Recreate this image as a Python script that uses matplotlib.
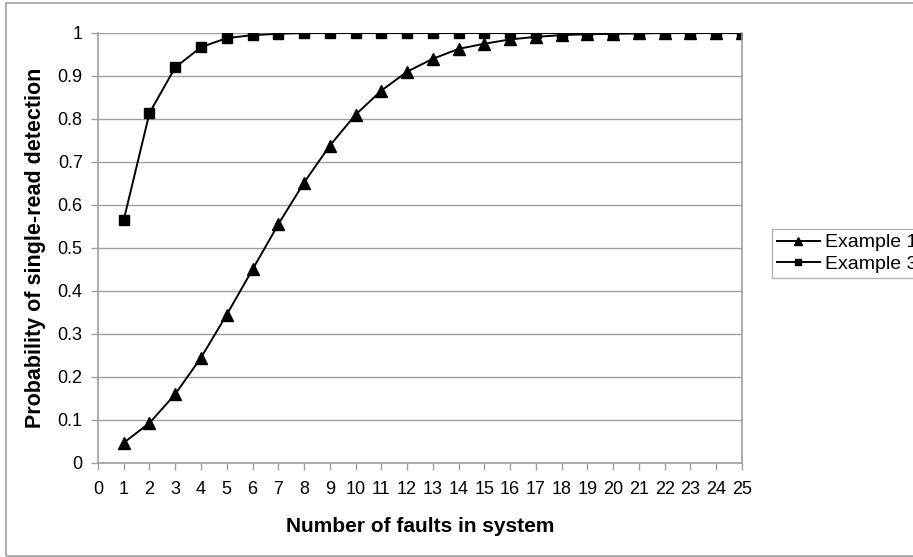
import matplotlib.pyplot as plt
from matplotlib.patches import Rectangle

faults = list(range(1, 26))

example1 = [0.047, 0.093, 0.160, 0.245, 0.345, 0.450, 0.555, 0.652, 0.738, 0.810,
            0.866, 0.910, 0.940, 0.963, 0.975, 0.985, 0.991, 0.995, 0.997, 0.998,
            0.999, 1.0, 1.0, 1.0, 1.0]
example3 = [0.565, 0.814, 0.920, 0.967, 0.988, 0.995, 0.998, 1.0, 1.0, 1.0,
            1.0, 1.0, 1.0, 1.0, 1.0, 1.0, 1.0, 1.0, 1.0, 1.0,
            1.0, 1.0, 1.0, 1.0, 1.0]

x_ticks = list(range(0, 26))
y_ticks = [0, 0.1, 0.2, 0.3, 0.4, 0.5, 0.6, 0.7, 0.8, 0.9, 1]
y_tick_labels = ['0', '0.1', '0.2', '0.3', '0.4', '0.5', '0.6', '0.7', '0.8', '0.9', '1']

plt.rcParams['font.family'] = ['Liberation Sans', 'DejaVu Sans']
grey = '#a0a0a0'

fig = plt.figure(figsize=(9.13, 5.57), dpi=100)
ax = fig.add_axes([0.1073, 0.1688, 0.7054, 0.772])

# outer chart border (runs off the right edge like the original)
fig.patches.append(Rectangle((6 / 913, 1 / 557), 1.0, 553 / 557, transform=fig.transFigure,
                             fill=False, edgecolor=grey, linewidth=1.2))

ax.plot(faults, example1, color='black', linewidth=1.4, marker='^', markersize=8, label='Example 1')
ax.plot(faults, example3, color='black', linewidth=1.4, marker='s', markersize=6.5, label='Example 3')

ax.set_xlim(0, 25)
ax.set_ylim(0, 1)
ax.set_xticks(x_ticks)
ax.set_xticklabels([str(t) for t in x_ticks])
ax.set_yticks(y_ticks)
ax.set_yticklabels(y_tick_labels)
ax.yaxis.grid(True, color=grey, linewidth=1)
ax.set_axisbelow(True)

ax.spines['top'].set_visible(False)
for s in ['left', 'bottom', 'right']:
    ax.spines[s].set_color(grey)
    ax.spines[s].set_linewidth(1.2)
ax.tick_params(axis='both', colors=grey, labelcolor='black', labelsize=13, length=5, width=1)
ax.tick_params(axis='x', pad=8)
ax.tick_params(axis='y', pad=6)

ax.set_xlabel('Number of faults in system', fontsize=15, fontweight='bold', labelpad=14)
ax.set_ylabel('Probability of single-read detection', fontsize=15.5, fontweight='bold', labelpad=8)

leg = fig.legend(loc='upper left', bbox_to_anchor=(772 / 913, 1 - 229 / 557), fontsize=14,
                 frameon=True, fancybox=False, borderpad=0.25, handlelength=2.2,
                 handletextpad=0.3, labelspacing=0.2, borderaxespad=0, markerscale=0.75)
leg.get_frame().set_edgecolor(grey)
leg.get_frame().set_linewidth(1.0)

fig.savefig('out.png', dpi=100)
